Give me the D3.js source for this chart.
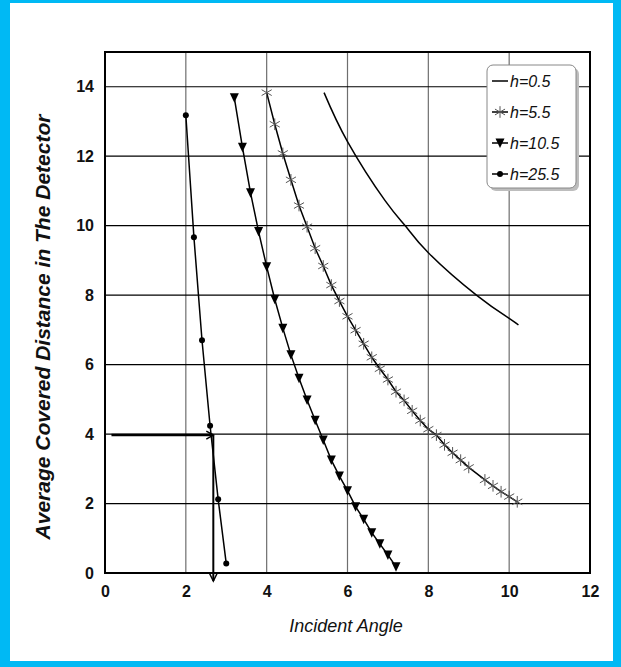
<!DOCTYPE html>
<html>
<head>
<meta charset="utf-8">
<script src="https://cdn.jsdelivr.net/npm/d3@7"></script>
<style>
  html, body { margin: 0; padding: 0; background: #00b9f4; }
  svg { display: block; }
</style>
</head>
<body>
<div id="chart"></div>
<script>
// axis ticks
var xTicks = [0, 2, 4, 6, 8, 10, 12];
var yTicks = [0, 2, 4, 6, 8, 10, 12, 14];

// series: [incident angle, distance]
var h05 = [[5.42, 13.83], [6.0, 12.42], [6.93, 10.72], [7.45, 9.97], [8.0, 9.22],
  [9.19, 8.0], [10.0, 7.33], [10.23, 7.14]];

var h55 = [[4.0, 13.83], [4.2, 12.92], [4.4, 12.08], [4.6, 11.32], [4.8, 10.58],
  [5.0, 9.97], [5.2, 9.35], [5.4, 8.84], [5.6, 8.29], [5.8, 7.83], [6.0, 7.39],
  [6.2, 6.99], [6.4, 6.6], [6.6, 6.21], [6.8, 5.88], [7.0, 5.57], [7.2, 5.22],
  [7.4, 4.97], [7.6, 4.67], [7.8, 4.39], [8.0, 4.14], [8.2, 3.97], [8.4, 3.69],
  [8.6, 3.46], [8.8, 3.25], [9.0, 3.04], [9.4, 2.68], [9.6, 2.51], [9.8, 2.34],
  [10.0, 2.2], [10.2, 2.05]];

var h105 = [[3.2, 13.68], [3.4, 12.26], [3.6, 10.95], [3.8, 9.83], [4.0, 8.82],
  [4.2, 7.88], [4.4, 7.05], [4.6, 6.28], [4.8, 5.61], [5.0, 4.98], [5.2, 4.4],
  [5.4, 3.83], [5.6, 3.25], [5.8, 2.79], [6.0, 2.37], [6.2, 1.91], [6.4, 1.55],
  [6.6, 1.16], [6.8, 0.84], [7.0, 0.52], [7.2, 0.18]];

var h255 = [[2.0, 13.18], [2.2, 9.67], [2.4, 6.7], [2.6, 4.24], [2.8, 2.12], [3.0, 0.27]];

var seriesNames = ['h=0.5', 'h=5.5', 'h=10.5', 'h=25.5'];

// reading arrows: from the y axis across to the h=25.5 curve, then down
var guideFrom = [0.16, 3.97];
var guideCorner = [2.68, 3.97];
var guideTo = [2.68, -0.23];

var W = 621, H = 667;
var TICKFONT = '"Liberation Sans Narrow", "Liberation Sans", Arial, sans-serif';
var FONT = '"Liberation Sans", Arial, sans-serif';

var svg = d3.select('#chart').append('svg')
  .attr('width', W).attr('height', H);

/* white page inside the blue frame */
svg.append('rect')
  .attr('x', 10).attr('y', 3).attr('width', W - 18).attr('height', H - 9)
  .attr('fill', '#fff');

var x = d3.scaleLinear().domain([0, 12]).range([105, 590]);
var y = d3.scaleLinear().domain([0, 15]).range([573, 52]);

/* grid */
svg.append('g').selectAll('line').data(xTicks.slice(1, -1)).join('line')
  .attr('x1', function (d) { return x(d); }).attr('x2', function (d) { return x(d); })
  .attr('y1', y(15)).attr('y2', y(0))
  .attr('stroke', '#6e6e6e').attr('stroke-width', 1.2);

svg.append('g').selectAll('line').data(yTicks.slice(1)).join('line')
  .attr('x1', x(0)).attr('x2', x(12))
  .attr('y1', function (d) { return y(d); }).attr('y2', function (d) { return y(d); })
  .attr('stroke', '#000').attr('stroke-width', 1.2);

/* frame */
svg.append('rect')
  .attr('x', x(0)).attr('y', y(15))
  .attr('width', x(12) - x(0)).attr('height', y(0) - y(15))
  .attr('fill', 'none').attr('stroke', '#000').attr('stroke-width', 2);

/* axes (labels only, no tick marks) */
var xAxis = svg.append('g')
  .attr('transform', 'translate(0,' + (y(0) + 13) + ')')
  .call(d3.axisBottom(x).tickValues(xTicks).tickSize(0).tickPadding(0));
var yAxis = svg.append('g')
  .attr('transform', 'translate(' + (x(0) - 11) + ',0)')
  .call(d3.axisLeft(y).tickValues(yTicks).tickSize(0).tickPadding(0));
[xAxis, yAxis].forEach(function (g) {
  g.select('.domain').remove();
  g.selectAll('text')
    .attr('font-family', TICKFONT).attr('font-size', 16)
    .attr('font-weight', 'bold').attr('fill', '#111');
});

/* axis titles */
svg.append('text')
  .attr('x', 346).attr('y', 632)
  .attr('text-anchor', 'middle')
  .attr('font-family', FONT).attr('font-size', 18)
  .attr('font-style', 'italic').attr('fill', '#111')
  .text('Incident Angle');

svg.append('text')
  .attr('transform', 'translate(50,327) rotate(-90)')
  .attr('text-anchor', 'middle')
  .attr('font-family', FONT).attr('font-size', 21)
  .attr('font-style', 'italic').attr('font-weight', 'bold').attr('fill', '#111')
  .text('Average Covered Distance in The Detector');

/* curves */
var line = d3.line()
  .x(function (d) { return x(d[0]); })
  .y(function (d) { return y(d[1]); });
var smooth = d3.line()
  .x(function (d) { return x(d[0]); })
  .y(function (d) { return y(d[1]); })
  .curve(d3.curveNatural);

var plot = svg.append('g');

plot.append('path').datum(h05).attr('d', smooth)
  .attr('fill', 'none').attr('stroke', '#000').attr('stroke-width', 1.5);
plot.append('path').datum(h55).attr('d', line)
  .attr('fill', 'none').attr('stroke', '#000').attr('stroke-width', 1.5);
plot.append('path').datum(h105).attr('d', line)
  .attr('fill', 'none').attr('stroke', '#000').attr('stroke-width', 1.5);
plot.append('path').datum(h255).attr('d', line)
  .attr('fill', 'none').attr('stroke', '#000').attr('stroke-width', 1.5);

var star = d3.symbol().type(d3.symbolAsterisk).size(95);
var tri = 'M-4.5,-4.5 L4.5,-4.5 L0,5 Z';

plot.append('g').selectAll('path').data(h55).join('path')
  .attr('transform', function (d) { return 'translate(' + x(d[0]) + ',' + y(d[1]) + ')'; })
  .attr('d', star)
  .attr('fill', 'none').attr('stroke', '#555').attr('stroke-width', 1);

plot.append('g').selectAll('path').data(h105).join('path')
  .attr('transform', function (d) { return 'translate(' + x(d[0]) + ',' + y(d[1]) + ')'; })
  .attr('d', tri).attr('fill', '#000');

plot.append('g').selectAll('circle').data(h255).join('circle')
  .attr('cx', function (d) { return x(d[0]); })
  .attr('cy', function (d) { return y(d[1]); })
  .attr('r', 3).attr('fill', '#000');

/* guide arrows */
svg.append('line')
  .attr('x1', x(guideFrom[0])).attr('y1', y(guideFrom[1]))
  .attr('x2', x(guideCorner[0])).attr('y2', y(guideCorner[1]))
  .attr('stroke', '#000').attr('stroke-width', 2.5);
svg.append('path')
  .attr('d', 'M' + (x(guideCorner[0]) - 7) + ',' + (y(guideCorner[1]) - 4) +
    ' L' + x(guideCorner[0]) + ',' + y(guideCorner[1]) +
    ' L' + (x(guideCorner[0]) - 7) + ',' + (y(guideCorner[1]) + 4))
  .attr('fill', 'none').attr('stroke', '#000').attr('stroke-width', 1.5);
svg.append('line')
  .attr('x1', x(guideCorner[0])).attr('y1', y(guideCorner[1]))
  .attr('x2', x(guideTo[0])).attr('y2', y(guideTo[1]))
  .attr('stroke', '#000').attr('stroke-width', 2);
svg.append('path')
  .attr('d', 'M' + (x(guideTo[0]) - 4) + ',' + (y(guideTo[1]) - 8) +
    ' L' + x(guideTo[0]) + ',' + y(guideTo[1]) +
    ' L' + (x(guideTo[0]) + 4) + ',' + (y(guideTo[1]) - 8))
  .attr('fill', 'none').attr('stroke', '#000').attr('stroke-width', 1.5);

/* legend */
var lg = svg.append('g').attr('transform', 'translate(487,65)');
lg.append('rect')
  .attr('x', 3).attr('y', 3).attr('width', 89).attr('height', 123).attr('rx', 6)
  .attr('fill', '#bdbdbd');
lg.append('rect')
  .attr('width', 89).attr('height', 123).attr('rx', 6)
  .attr('fill', '#fff').attr('stroke', '#888').attr('stroke-width', 1);

seriesNames.forEach(function (name, i) {
  var cy = 16 + i * 31;
  lg.append('line')
    .attr('x1', 5).attr('x2', 21).attr('y1', cy).attr('y2', cy)
    .attr('stroke', '#000').attr('stroke-width', 1.5);
  if (i === 1) {
    lg.append('path').attr('transform', 'translate(13,' + cy + ')')
      .attr('d', star).attr('fill', 'none').attr('stroke', '#555').attr('stroke-width', 1);
  } else if (i === 2) {
    lg.append('path').attr('transform', 'translate(13,' + cy + ')')
      .attr('d', tri).attr('fill', '#000');
  } else if (i === 3) {
    lg.append('circle').attr('cx', 13).attr('cy', cy).attr('r', 3).attr('fill', '#000');
  }
  lg.append('text')
    .attr('x', 23).attr('y', cy + 6)
    .attr('font-family', FONT).attr('font-size', 16)
    .attr('font-style', 'italic').attr('fill', '#111')
    .text(name);
});
</script>
</body>
</html>
